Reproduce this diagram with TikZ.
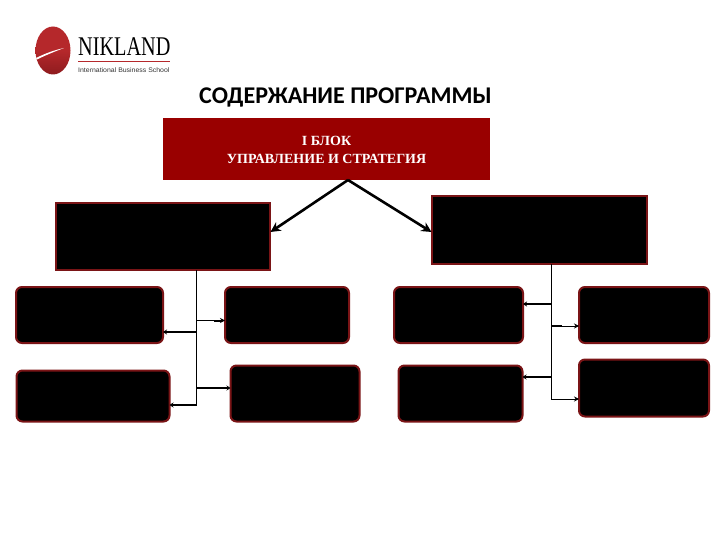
\documentclass[tikz,border=0pt]{standalone}
\usepackage{fontspec}
\setmainfont{Liberation Serif}
\newfontfamily\titlefont{Carlito}
\newfontfamily\logosans{Liberation Sans}
\usetikzlibrary{arrows.meta,calc}
\definecolor{blockred}{HTML}{990000}
\definecolor{edgered}{HTML}{7A1416}
\definecolor{logored}{HTML}{B5282B}
\definecolor{logodark}{HTML}{8E1B1E}
\tikzset{
  x=1pt,y=-1pt,
  bigbox/.style={rectangle,fill=black,draw=edgered,line width=2pt,inner sep=0pt,outer sep=0pt},
  roundbox/.style={rectangle,rounded corners=6pt,fill=black,draw=edgered,line width=2pt,inner sep=0pt,outer sep=0pt},
  topbox/.style={rectangle,fill=blockred,inner sep=0pt,outer sep=0pt,text=white,align=center,font=\bfseries\fontsize{14}{18}\selectfont},
  mainlink/.style={line width=2.6pt,-{Stealth[length=10pt,width=10pt]},draw=black},
  trunk/.style={line width=1.1pt,draw=black},
  thicklink/.style={line width=2pt,-{Stealth[length=4pt,width=5pt]},draw=black},
  thinlink/.style={line width=1pt,-{Stealth[length=5pt,width=5pt]},draw=black},
  stublink/.style={line width=2pt,draw=black},
}
\begin{document}
\begin{tikzpicture}
\useasboundingbox (0,0) rectangle (720,540);
\fill[white] (0,0) rectangle (720,540);
% logo
\shade[top color=logored,bottom color=logodark,middle color=logored] (53,50.5) ellipse [x radius=17.5,y radius=24];
\fill[white] (36,58) .. controls (46,53) and (55,50) .. (64,48) .. controls (55,51.5) and (46,55) .. (37,59.5) -- cycle;
\node[anchor=west,inner sep=0pt,text=black] (logoname) at (78,47) {\fontsize{27}{27}\selectfont\scalebox{0.75}[1]{NIKLAND}};
\draw[draw=logored,line width=1.2pt] (78,61.5) -- (170,61.5);
\node[anchor=west,inner sep=0pt,text=black!80] (logosub) at (78,70) {\logosans\fontsize{6.6}{7}\selectfont\scalebox{1.05}[1]{International Business School}};
% title
\node[inner sep=0pt,text=black] (title) at (345.5,97) {\titlefont\bfseries\fontsize{24}{28}\selectfont СОДЕРЖАНИЕ ПРОГРАММЫ};
% boxes
\node[topbox,minimum width=327,minimum height=62] (top) at (326.5,149.5) {I БЛОК\\УПРАВЛЕНИЕ И СТРАТЕГИЯ};
\node[bigbox,minimum width=214,minimum height=67] (L) at (163,236.5) {};
\node[bigbox,minimum width=215,minimum height=68] (R) at (539.5,230) {};
\node[roundbox,minimum width=147,minimum height=56] (A) at (89.5,315) {};
\node[roundbox,minimum width=124,minimum height=56] (B) at (287,315) {};
\node[roundbox,minimum width=153,minimum height=51] (C) at (93,396) {};
\node[roundbox,minimum width=129,minimum height=56] (D) at (295,393.5) {};
\node[roundbox,minimum width=129,minimum height=56] (E) at (458.5,315) {};
\node[roundbox,minimum width=130,minimum height=56] (F) at (644,315) {};
\node[roundbox,minimum width=124,minimum height=56] (G) at (460.5,393.5) {};
\node[roundbox,minimum width=130,minimum height=57] (H) at (644,388) {};
% main arrows
\coordinate (apex) at (348,180);
\coordinate (Lin) at (270.5,232);
\coordinate (Rin) at (431.5,232);
\draw[mainlink] (apex) -- (Lin);
\draw[mainlink] (apex) -- (Rin);
% left tree
\coordinate (LT) at (196.5,270);
\coordinate (LE) at (196.5,405.5);
\draw[trunk] (LT) -- (LE);
\coordinate (jA) at (196.5,332);
\coordinate (jB) at (196.5,320.5);
\coordinate (sB) at (214,320.5);
\coordinate (jC) at (196.5,405);
\coordinate (jD) at (196.5,388);
\draw[thicklink] (jA) -- (jA -| A.east);
\draw[thinlink] (jB) -- (jB -| B.west);
\draw[stublink] (sB) -- ($(jB -| B.west)+(-3,0)$);
\draw[thicklink] (jC) -- (jC -| C.east);
\draw[thicklink] (jD) -- (jD -| D.west);
% right tree
\coordinate (RT) at (551.5,264);
\coordinate (RE) at (551.5,399.5);
\draw[trunk] (RT) -- (RE);
\coordinate (jE) at (551.5,304);
\coordinate (jF) at (551.5,326);
\coordinate (sF) at (562,326);
\coordinate (jG) at (551.5,377);
\coordinate (jH) at (551.5,399);
\draw[thicklink] (jE) -- (jE -| E.east);
\draw[thinlink] (jF) -- (jF -| F.west);
\draw[stublink] (jF) -- (sF);
\draw[thicklink] (jG) -- (jG -| G.east);
\draw[thinlink] (jH) -- (jH -| H.west);
\end{tikzpicture}
\end{document}
